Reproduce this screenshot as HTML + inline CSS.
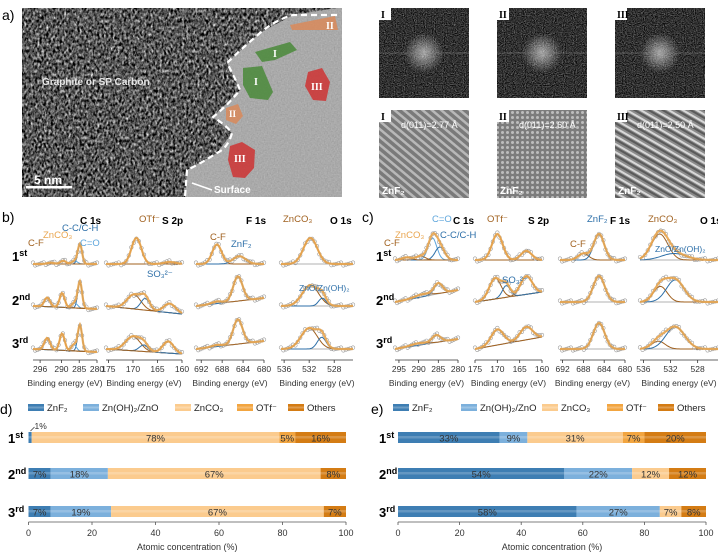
<!DOCTYPE html>
<html><head><meta charset="utf-8">
<style>
html,body{margin:0;padding:0;background:#fff;}
body{width:718px;height:558px;overflow:hidden;font-family:"Liberation Sans",sans-serif;}
svg{display:block;}
</style></head>
<body>
<svg id="fig" width="718" height="558" viewBox="0 0 718 558" xmlns="http://www.w3.org/2000/svg" font-family="Liberation Sans, sans-serif">
<defs>
<filter id="noise" x="0" y="0" width="100%" height="100%" color-interpolation-filters="sRGB">
<feTurbulence type="fractalNoise" baseFrequency="0.45 0.3" numOctaves="2" seed="7" result="n"/>
<feColorMatrix in="n" type="matrix" values="0.33 0.33 0.33 0 0  0.33 0.33 0.33 0 0  0.33 0.33 0.33 0 0  0 0 0 0 1"/>
<feComponentTransfer><feFuncR type="linear" slope="2.6" intercept="-0.95"/><feFuncG type="linear" slope="2.6" intercept="-0.95"/><feFuncB type="linear" slope="2.6" intercept="-0.95"/></feComponentTransfer>
</filter>
<filter id="noise2" x="0" y="0" width="100%" height="100%" color-interpolation-filters="sRGB">
<feTurbulence type="fractalNoise" baseFrequency="0.7" numOctaves="1" seed="5" result="n"/>
<feColorMatrix in="n" type="matrix" values="0.33 0.33 0.33 0 0  0.33 0.33 0.33 0 0  0.33 0.33 0.33 0 0  0 0 0 0 1"/>
<feComponentTransfer><feFuncR type="linear" slope="0.6" intercept="0.38"/><feFuncG type="linear" slope="0.6" intercept="0.38"/><feFuncB type="linear" slope="0.6" intercept="0.38"/></feComponentTransfer>
</filter>
<filter id="fft" x="0" y="0" width="100%" height="100%" color-interpolation-filters="sRGB">
<feTurbulence type="fractalNoise" baseFrequency="0.9" numOctaves="1" seed="11" result="n"/>
<feColorMatrix in="n" type="matrix" values="0.33 0.33 0.33 0 0  0.33 0.33 0.33 0 0  0.33 0.33 0.33 0 0  0 0 0 0 1"/>
<feComponentTransfer><feFuncR type="linear" slope="1.4" intercept="-0.5"/><feFuncG type="linear" slope="1.4" intercept="-0.5"/><feFuncB type="linear" slope="1.4" intercept="-0.5"/></feComponentTransfer>
</filter>
<radialGradient id="glow"><stop offset="0" stop-color="#fff" stop-opacity="0.6"/><stop offset="1" stop-color="#fff" stop-opacity="0"/></radialGradient>
<pattern id="stripeA" width="6" height="6" patternUnits="userSpaceOnUse" patternTransform="rotate(-50)"><rect width="6" height="6" fill="#7a7a7a"/><rect width="2.5" height="6" fill="#b8b8b8"/></pattern>
<pattern id="stripeB" width="5" height="5" patternUnits="userSpaceOnUse"><rect width="5" height="5" fill="#7c7c7c"/><circle cx="2.5" cy="2.5" r="1.5" fill="#bdbdbd"/></pattern>
<pattern id="stripeC" width="7" height="7" patternUnits="userSpaceOnUse" patternTransform="rotate(-60)"><rect width="7" height="7" fill="#8a8a8a"/><rect width="2" height="7" fill="#d8d8d8"/><rect x="4" width="2" height="7" fill="#5a5a5a"/></pattern>
</defs>

<!-- panel a -->
<g>
<text x="2" y="20" font-size="14">a)</text>
<rect x="22" y="8" width="320" height="189" fill="#555"/>
<rect x="22" y="8" width="320" height="189" filter="url(#noise)"/>
<g>
<clipPath id="pclip"><path d="M337,8 L342,8 L342,197 L185,197 L187,170 L217,153 L232,133 L213,117 L240,90 L227,63 L260,33 L293,15 Z"/></clipPath>
<rect x="180" y="8" width="162" height="189" filter="url(#noise2)" clip-path="url(#pclip)"/>
<rect x="180" y="8" width="162" height="189" fill="#a8a8a8" opacity="0.55" clip-path="url(#pclip)"/>
</g>
<path d="M337,15 L293,15 Q275,20 260,33 Q240,50 227,63 Q235,78 240,90 Q228,105 213,117 Q226,125 232,133 Q228,148 217,153 Q198,165 187,170 L185,197" fill="none" stroke="#fff" stroke-width="2.2" stroke-dasharray="6,4"/>
<polygon points="290,25 335,16 338,30 292,30" fill="#d98a5a" opacity="0.85"/>
<text x="326" y="29" font-size="10" fill="#fff" font-family="Liberation Serif, serif" font-weight="bold">II</text>
<polygon points="255,52 290,42 297,50 275,60 262,62" fill="#4a8a3a" opacity="0.85"/>
<text x="273" y="57" font-size="10" fill="#fff" font-family="Liberation Serif, serif" font-weight="bold">I</text>
<polygon points="243,68 262,66 273,92 268,100 250,98 243,85" fill="#4a8a3a" opacity="0.85"/>
<text x="254" y="85" font-size="10" fill="#fff" font-family="Liberation Serif, serif" font-weight="bold">I</text>
<polygon points="308,72 322,68 330,82 326,101 313,100 305,86" fill="#cc3a3a" opacity="0.9"/>
<text x="311" y="90" font-size="10" fill="#fff" font-family="Liberation Serif, serif" font-weight="bold">III</text>
<polygon points="226,108 238,104 243,116 236,124 226,120" fill="#d98a5a" opacity="0.85"/>
<text x="229" y="117" font-size="9" fill="#fff" font-family="Liberation Serif, serif" font-weight="bold">II</text>
<polygon points="230,146 242,142 255,150 254,168 245,178 233,177 228,160" fill="#cc3a3a" opacity="0.9"/>
<text x="234" y="162" font-size="10" fill="#fff" font-family="Liberation Serif, serif" font-weight="bold">III</text>
<text x="42" y="85" font-size="10" fill="#e8e8e8" font-weight="bold">Graphite or SP Carbon</text>
<rect x="26" y="186" width="46" height="2.5" fill="#fff"/>
<text x="34" y="184" font-size="12" fill="#fff" font-weight="bold">5 nm</text>
<line x1="212" y1="190" x2="192" y2="183" stroke="#fff" stroke-width="1.5"/>
<text x="214" y="193" font-size="10" fill="#fff" font-weight="bold">Surface</text>
</g>

<g id="fftg"></g>
<g id="xps"></g>
<g id="bars"></g>
</svg>
<script>
// ---------- bar chart data ----------
const categories = ['ZnF2', 'Zn(OH)2/ZnO', 'ZnCO3', 'OTf-', 'Others'];
const rowLabels = ['1st', '2nd', '3rd'];
const dRow1 = [1, 0, 78, 5, 16];
const dRow2 = [7, 18, 67, 0, 8];
const dRow3 = [7, 19, 67, 0, 7];
const eRow1 = [33, 9, 31, 7, 20];
const eRow2 = [54, 22, 12, 0, 12];
const eRow3 = [58, 27, 7, 0, 8];
const xTicks = [0, 20, 40, 60, 80, 100];

// ---------- XPS peak data: [center eV, relative height, sigma eV, kind] ----------
const bC1 = [[284.8,0.75,0.6,'b'],[286.3,0.12,0.8,'l'],[289.5,0.12,0.8,'o'],[293,0.05,1,'o']];
const bC2 = [[284.8,1.0,0.6,'b'],[286.3,0.2,0.8,'l'],[289.8,0.55,0.7,'o'],[294,0.35,0.8,'o']];
const bC3 = [[284.8,1.0,0.6,'b'],[286.5,0.25,0.7,'l'],[289.8,0.65,0.7,'o'],[294,0.45,0.8,'o']];
const bS1 = [[169.3,1.0,1.0,'o'],[162.5,0.08,1.2,'o']];
const bS2 = [[169.8,0.55,1.4,'o'],[167.5,0.45,0.9,'b'],[162.5,0.35,1.2,'o']];
const bS3 = [[170,0.55,1.5,'o'],[167.8,0.25,0.9,'b'],[162.8,0.45,1.1,'o']];
const bF1 = [[689.0,0.75,0.9,'o'],[684.7,0.3,1.2,'b']];
const bF2 = [[689.0,0.08,1.0,'o'],[685.0,0.95,0.9,'b']];
const bF3 = [[689.0,0.06,1.0,'o'],[685.0,0.95,0.9,'b']];
const bO1 = [[531.8,1.0,1.1,'o']];
const bO2 = [[531.8,0.8,1.3,'o'],[529.9,0.3,0.6,'b']];
const bO3 = [[532.0,0.8,1.3,'o'],[530.0,0.45,0.7,'b']];
const cC1 = [[286.5,0.85,1.1,'l'],[284.6,0.5,1.2,'b'],[289.5,0.15,1.2,'o'],[293,0.1,1.2,'o']];
const cC2 = [[285,0.4,1.1,'b'],[289,0.1,2,'o']];
const cC3 = [[285.5,0.28,1.1,'b'],[290,0.08,2,'o']];
const cS1 = [[170,1.0,1.2,'o'],[163.5,0.35,1.2,'o']];
const cS2 = [[170.5,0.8,1.3,'o'],[168,0.45,0.9,'b'],[163.5,0.7,1.3,'o']];
const cS3 = [[170,0.6,1.4,'o'],[163.5,0.5,1.4,'o']];
const cF1 = [[688,0.25,1.0,'o'],[685,1.0,1.0,'b']];
const cF2 = [[685,1.0,1.1,'b']];
const cF3 = [[685,1.0,1.1,'b']];
const cO1 = [[533.6,1.0,1.2,'o'],[531.5,0.25,1.8,'b']];
const cO2 = [[533.5,0.6,1.0,'o'],[531.3,0.85,1.3,'b']];
const cO3 = [[533.8,0.3,1.0,'o'],[531.3,0.85,1.4,'b']];

const NS = 'http://www.w3.org/2000/svg';
function mk(tag, attrs, parent){const e=document.createElementNS(NS,tag);for(const k in attrs)e.setAttribute(k,attrs[k]);parent.appendChild(e);return e;}
function txt(parent,x,y,s,size,extra){const t=mk('text',Object.assign({x:x,y:y,'font-size':size},extra||{}),parent);t.textContent=s;return t;}

// ---------- FFT panels ----------
const fftg=document.getElementById('fftg');
const fx=[379,497,615];
const roman=['I','II','III'];
const dlabel=['d(011)=2.77 Å','d(011)=2.60 Å','d(011)=2.50 Å'];
const pats=['url(#stripeA)','url(#stripeB)','url(#stripeC)'];
for(let i=0;i<3;i++){
  const g=mk('g',{},fftg);
  
  
  mk('rect',{x:fx[i],y:8,width:90,height:90,fill:'#202020'},g);
  mk('rect',{x:fx[i],y:8,width:90,height:90,fill:'#000',filter:'url(#fft)'},g);
  mk('circle',{cx:fx[i]+45,cy:53,r:20,fill:'url(#glow)'},g);
  mk('line',{x1:fx[i],y1:53,x2:fx[i]+90,y2:53,stroke:'#888','stroke-width':0.6},g);
  mk('rect',{x:fx[i],y:8,width:12,height:12,fill:'#fff'},g);
  txt(g,fx[i]+2,18,roman[i],10,{'font-family':'Liberation Serif, serif','font-weight':'bold'});
  const h=mk('g',{},fftg);
  
  
  mk('rect',{x:fx[i],y:110,width:90,height:88,fill:pats[i]},h);
  mk('rect',{x:fx[i],y:110,width:12,height:12,fill:'#fff'},h);
  txt(h,fx[i]+2,120,roman[i],10,{'font-family':'Liberation Serif, serif','font-weight':'bold'});
  txt(h,fx[i]+22,128,dlabel[i],9,{fill:'#fff'});
  txt(h,fx[i]+3,194,'ZnF₂',10,{fill:'#fff','font-weight':'bold'});
}

// ---------- XPS panels ----------
const xps=document.getElementById('xps');
const COL={o:'#a0601e',b:'#2d6fa8',l:'#5ea6dc'};
function gauss(x,p){return p[1]*Math.exp(-0.5*Math.pow((x-p[0])/p[2],2));}
function drawSpec(g,x0,x1,emax,emin,base,amp,peaks,slope){
  const X=e=>x0+(emax-e)/(emax-emin)*(x1-x0);
  const n=60;const env=[],bl=[];
  for(let i=0;i<=n;i++){const e=emax-(emax-emin)*i/n;const b=base-slope*(i/n);bl.push([X(e),b]);let s=0;peaks.forEach(p=>s+=gauss(e,p));env.push([X(e),b-amp*s]);}
  const line=a=>a.map((p,i)=>(i?'L':'M')+p[0].toFixed(1)+','+p[1].toFixed(1)).join('');
  mk('path',{d:line(bl),fill:'none',stroke:'#b0b0b0','stroke-width':1},g);
  peaks.forEach(p=>{const c=[];for(let i=0;i<=n;i++){const e=emax-(emax-emin)*i/n;const b=base-slope*(i/n);c.push([X(e),b-amp*gauss(e,p)]);}mk('path',{d:line(c),fill:'none',stroke:COL[p[3]],'stroke-width':1},g);});
  env.forEach((p,i)=>{if(i%2==0)mk('circle',{cx:p[0],cy:p[1]+((i*7)%5-2)*0.7,r:1.8,fill:'none',stroke:'#9a9a9a','stroke-width':0.6},g);});
  mk('path',{d:line(env),fill:'none',stroke:'#e9a54e','stroke-width':2.2,'stroke-opacity':0.9},g);
}
function panel(name,cols,rows,data,titles,rowY){
  const g=mk('g',{},xps);
  
  
  cols.forEach((c,ci)=>{
    const ag=mk('g',{},g);
    
    
    mk('line',{x1:c.x0,y1:360,x2:c.x1,y2:360,stroke:'#333','stroke-width':0.8},ag);
    c.ticks.forEach(t=>{const x=c.x0+(c.emax-t)/(c.emax-c.emin)*(c.x1-c.x0);mk('line',{x1:x,y1:360,x2:x,y2:363,stroke:'#333','stroke-width':0.8},ag);txt(ag,x,372,String(t),8.5,{'text-anchor':'middle',fill:'#333'});});
    txt(ag,(c.x0+c.x1)/2,386,'Binding energy (eV)',8.5,{'text-anchor':'middle',fill:'#333'});
    txt(ag,c.tx,224,titles[ci],10,{'font-weight':'bold'});
    for(let r=0;r<3;r++){const sg=mk('g',{},g);drawSpec(sg,c.x0,c.x1,c.emax,c.emin,rowY[r],26,data[ci][r],c.slope[r]);}
  });
  rowLabels.forEach((s,r)=>{const t=txt(g,rows,[261,305,348][r],s.slice(0,1),13,{'font-weight':'bold'});const ts=mk('tspan',{dy:-5,'font-size':9},t);ts.textContent=s.slice(1);});
}
panel('panel-b-xps',[
 {x0:33,x1:97,emax:298,emin:280,ticks:[296,290,285,280],tx:80,slope:[0,-3,-3]},
 {x0:106,x1:182,emax:175.5,emin:160,ticks:[175,170,165,160],tx:162,slope:[0,-8,-5]},
 {x0:196,x1:264,emax:693,emin:680,ticks:[692,688,684,680],tx:246,slope:[0,8,8]},
 {x0:281,x1:353,emax:536.5,emin:525,ticks:[536,532,528],tx:330,slope:[0,0,0]}],
 12,[[bC1,bC2,bC3],[bS1,bS2,bS3],[bF1,bF2,bF3],[bO1,bO2,bO3]],['C 1s','S 2p','F 1s','O 1s'],[264,306,349]);
panel('panel-c-xps',[
 {x0:395,x1:458,emax:296,emin:280,ticks:[295,290,285,280],tx:453,slope:[0,12,10]},
 {x0:475,x1:542,emax:175,emin:160,ticks:[175,170,165,160],tx:528,slope:[0,10,12]},
 {x0:560,x1:625,emax:692.5,emin:680,ticks:[692,688,684,680],tx:610,slope:[0,0,0]},
 {x0:640,x1:718,emax:536.5,emin:525,ticks:[536,532,528],tx:700,slope:[0,0,0]}],
 376,[[cC1,cC2,cC3],[cS1,cS2,cS3],[cF1,cF2,cF3],[cO1,cO2,cO3]],['C 1s','S 2p','F 1s','O 1s'],[260,302,349]);
function ann(x,y,s,c,sz){const t=txt(xps,x,y,s,sz||9.5,{fill:c});}
txt(xps,2,222,'b)',14);
txt(xps,362,222,'c)',14);
ann(62,231,'C-C/C-H','#2d6fa8');ann(43,238,'ZnCO₃','#e9a54e');ann(28,246,'C-F','#a0601e');ann(80,246,'C=O','#5ea6dc');
ann(139,222,'OTf⁻','#a0601e');ann(147,277,'SO₃²⁻','#2d6fa8');
ann(210,240,'C-F','#a0601e');ann(231,247,'ZnF₂','#2d6fa8');
ann(283,222,'ZnCO₃','#a0601e');ann(299,291,'ZnO/Zn(OH)₂','#2d6fa8',8.5);
ann(432,222,'C=O','#5ea6dc');ann(395,238,'ZnCO₃','#e9a54e');ann(384,246,'C-F','#a0601e');ann(440,238,'C-C/C-H','#2d6fa8');
ann(487,222,'OTf⁻','#a0601e');ann(502,283,'SO₃²⁻','#2d6fa8');
ann(587,222,'ZnF₂','#2d6fa8');ann(570,247,'C-F','#a0601e');
ann(648,222,'ZnCO₃','#a0601e');ann(655,252,'ZnO/Zn(OH)₂','#2d6fa8',8.5);

// ---------- bar charts ----------
const bars=document.getElementById('bars');
const BC=['#3e7eb3','#7cb0dc','#fbcb8e','#f2a540','#d47c14'];
function barChart(name,lab,labX,x0,x1,rows,legX){
  const g=mk('g',{},bars);
  
  
  txt(g,labX,414,lab,14);
  const X=v=>x0+v/100*(x1-x0);
  categories.forEach((c,i)=>{
    const lg=mk('g',{},g);
    
    
    mk('rect',{x:legX[i],y:404,width:16,height:7,fill:BC[i]},lg);
    mk('rect',{x:legX[i],y:406.5,width:16,height:2,fill:'#fff',opacity:0.25},lg);
    const t=txt(lg,legX[i]+19,411,'',9.5,{fill:'#222'});
    t.textContent=['ZnF₂','Zn(OH)₂/ZnO','ZnCO₃','OTf⁻','Others'][i];
  });
  const ys=[432,468,506];
  rows.forEach((vals,r)=>{
    const rg=mk('g',{},g);
    
    
    const t=txt(rg,labX+8,ys[r]+11,rowLabels[r].slice(0,1),13,{'font-weight':'bold'});
    const ts=mk('tspan',{dy:-5,'font-size':9},t);ts.textContent=rowLabels[r].slice(1);
    let acc=0;
    vals.forEach((v,i)=>{
      if(v<=0)return;
      const s=mk('rect',{x:X(acc),y:ys[r],width:X(acc+v)-X(acc),height:11,fill:BC[i]},rg);
      
      
      mk('rect',{x:X(acc),y:ys[r]+4,width:X(acc+v)-X(acc),height:2.5,fill:'#fff',opacity:0.2},rg);
      if(v>=5)txt(rg,(X(acc)+X(acc+v))/2,ys[r]+9.5,v+'%',9.5,{'text-anchor':'middle',fill:'#333'});
      acc+=v;
    });
    if(vals[0]>0&&vals[0]<5){mk('line',{x1:X(0)+2,y1:ys[r]-1,x2:X(0)+6,y2:ys[r]-5,stroke:'#333','stroke-width':0.7},rg);txt(rg,X(0)+6,ys[r]-3,vals[0]+'%',8.5,{fill:'#333'});}
  });
  const ax=mk('g',{},g);
  
  
  mk('line',{x1:x0,y1:522,x2:x1,y2:522,stroke:'#555','stroke-width':0.8},ax);
  xTicks.forEach(t=>{mk('line',{x1:X(t),y1:522,x2:X(t),y2:525,stroke:'#555','stroke-width':0.8},ax);txt(ax,X(t),536,String(t),9,{'text-anchor':'middle',fill:'#333'});});
  const xl=txt(ax,(x0+x1)/2,550,'Atomic concentration (%)',9,{'text-anchor':'middle',fill:'#333'});
  
  
}
barChart('bar-chart-d','d)',0,28.5,346,[dRow1,dRow2,dRow3],[28,83,175,237,288]);
barChart('bar-chart-e','e)',371,398,706,[eRow1,eRow2,eRow3],[393,461,542,607,658]);
</script>
</body></html>
